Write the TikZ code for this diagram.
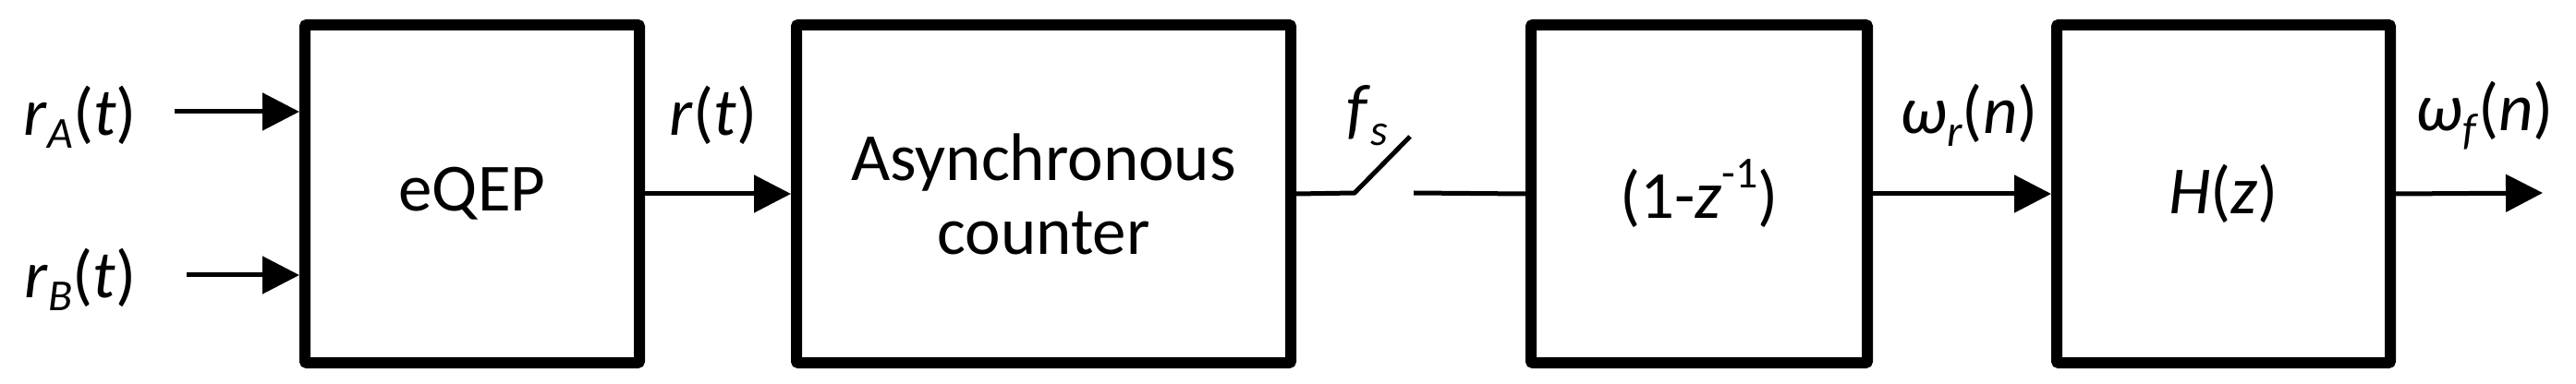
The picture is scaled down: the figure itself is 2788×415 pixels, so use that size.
\documentclass[tikz,border=0pt]{standalone}
\usepackage{fontspec}
\setmainfont{Carlito}
\usetikzlibrary{arrows.meta}
\newcommand{\mysub}[1]{\raisebox{-0.2em}{\fontsize{48}{50}\selectfont #1}}
\newcommand{\mysup}[1]{\raisebox{0.45em}{\fontsize{48}{50}\selectfont #1}}
\begin{document}
\begin{tikzpicture}[x=1pt,y=1pt,
  blk/.style={draw,line width=12pt,inner sep=0pt,rounded corners=2pt},
  lab/.style={font=\fontsize{73}{80}\selectfont,inner sep=0pt},
  ln/.style={line width=5pt},
  arr/.style={line width=5pt,-{Triangle[length=40pt,width=40pt]}}]
\useasboundingbox (0,0) rectangle (2788,415);
\node[blk,minimum width=362pt,minimum height=366pt] (eqep) at (511,205) {};
\node[lab] at (eqep.center) {eQEP};
\node[blk,minimum width=535pt,minimum height=366pt] (cnt) at (1129.5,205) {};
\node[lab,align=center] at (cnt.center) {Asynchronous\\counter};
\node[blk,minimum width=364pt,minimum height=366pt] (dif) at (1839,205) {};
\node[lab] at (dif.center) {(1-\textit{z}\mysup{-1})};
\node[blk,minimum width=361pt,minimum height=366pt] (hz) at (2406.5,205) {};
\node[lab] at (hz.center) {\textit{H}(\textit{z})};
% inputs
\coordinate (ina) at (189,294);
\coordinate (inb) at (202,117);
\draw[arr] (ina) -- (ina -| eqep.west);
\draw[arr] (inb) -- (inb -| eqep.west);
\node[lab] (la) at (87,288) {\textit{r}\mysub{\textit{A}}(\textit{t})};
\node[lab] (lb) at (87,112) {\textit{r}\mysub{\textit{B}}(\textit{t})};
\draw[arr] (eqep.east) -- (cnt.west);
\node[lab] (lr) at (772,290) {\textit{r}(\textit{t})};
% switch
\coordinate (s1) at (1466,206);
\coordinate (s2) at (1526,267);
\coordinate (s3) at (1530,206);
\draw[ln] (cnt.east) -- (s1) -- (s2);
\draw[ln] (s3) -- (dif.west);
\node[lab] (lf) at (1480,290) {\textit{f}\mysub{\textit{s}}};
\draw[arr] (dif.east) -- (hz.west);
\node[lab] (lw) at (2131,290) {\textit{ω}\mysub{\textit{r}}(\textit{n})};
\coordinate (out) at (2752,206);
\draw[arr] (hz.east) -- (out);
\node[lab] (lo) at (2689,290) {\textit{ω}\mysub{\textit{f}}(\textit{n})};
\end{tikzpicture}
\end{document}
